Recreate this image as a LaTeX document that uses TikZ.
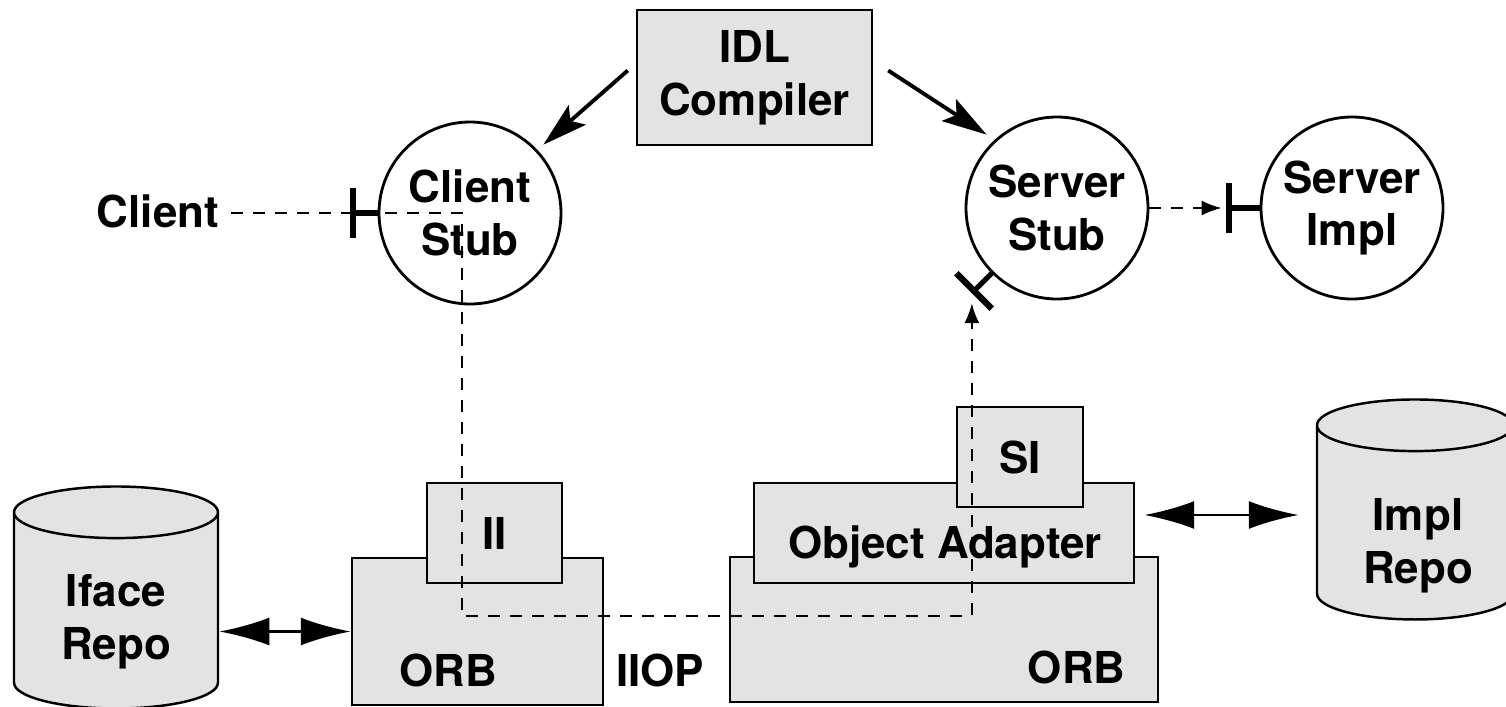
\documentclass[tikz,border=0pt]{standalone}
\usepackage{fontspec}
\setmainfont{TeX Gyre Heros}
\usetikzlibrary{arrows.meta,shapes.geometric}

\begin{document}
\begin{tikzpicture}[
  every node/.style={font=\fontsize{12.5}{15}\selectfont\bfseries},
  box/.style={rectangle, draw=black, fill=black!11, line width=0.7pt, inner sep=0pt, align=center},
  stub/.style={circle, draw=black, line width=0.8pt, minimum size=1.82cm, inner sep=0pt, align=center},
  repo/.style={cylinder, shape border rotate=90, aspect=0.47, draw=black, fill=black!11, line width=0.7pt, inner sep=0pt, align=center},
  arrow/.style={-{Stealth[length=4.5mm, width=2.6mm, inset=0.9mm]}, line width=1.1pt},
  twoway/.style={{Latex[length=5mm, width=2.8mm]}-{Latex[length=5mm, width=2.8mm]}, line width=0.8pt},
  link/.style={dash pattern=on 1.2mm off 1mm, line width=0.6pt},
  tee/.style={-{Bar[width=5mm, line width'=1.8pt]}, line width=1.5pt}
]
\useasboundingbox (0,0) rectangle (15.06,-7.07);

% Compiler and stubs
\node[box, minimum width=2.35cm, minimum height=1.35cm] (idl) at (7.545,-0.775) {IDL\\Compiler};
\node[stub] (cstub) at (4.70,-2.13) {Client\\Stub};
\node[stub] (sstub) at (10.57,-2.08) {Server\\Stub};
\node[stub] (simpl) at (13.52,-2.08) {Server\\Impl};
\node (client) at (1.58,-2.11) {Client};

% ORB on the client side
\node[box, minimum width=2.51cm, minimum height=1.47cm] (orbL) at (4.775,-6.315) {};
\node[anchor=base west] (orbLtext) at (3.87,-6.86) {ORB};
\node[box, minimum width=1.35cm, minimum height=1.00cm] (ii) at (4.945,-5.33) {II};

% ORB and adapter on the server side
\node[box, minimum width=4.28cm, minimum height=1.45cm] (orbR) at (9.44,-6.295) {};
\node[anchor=base east] (orbRtext) at (11.38,-6.83) {ORB};
\node[box, minimum width=3.80cm, minimum height=1.00cm] (oa) at (9.44,-5.33) {};
\node (oatext) at (9.45,-5.47) {Object Adapter};
\node[box, minimum width=1.26cm, minimum height=1.00cm] (si) at (10.20,-4.57) {SI};
\node[anchor=base] (iiop) at (6.60,-6.86) {IIOP};

% Repositories
\node[repo, minimum width=2.04cm, minimum height=2.22cm] (iface) at (1.16,-6.11) {\phantom{Iface}\\\phantom{Repo}};
\node[align=center] (ifacetext) at (1.16,-6.22) {Iface\\Repo};
\node[repo, minimum width=1.96cm, minimum height=2.20cm] (impl) at (14.15,-5.23) {\phantom{Impl}\\\phantom{Repo}};
\node[align=center] (impltext) at (14.18,-5.46) {Impl\\Repo};

% Connections
\coordinate (oaport) at ([yshift=0.18cm]oa.east);
\draw[arrow] ([shift={(-0.08,0.07)}]idl.west) -- ([shift={(0.08,0.03)}]cstub.north east);
\draw[arrow] ([shift={(0.15,0.07)}]idl.east) -- ([shift={(-0.05,0.08)}]sstub.north west);
\draw[twoway] (iface.east |- orbL.west) -- (orbL.west);
\draw[twoway] ([xshift=0.09cm]oaport) -- ([xshift=-0.17cm]impl.west |- oaport);

\draw[tee] (cstub.west) -- ++(-0.28,0) coordinate (cbar);
\draw[tee] (sstub.south west) -- ++(225:0.28) coordinate (sbar);
\draw[tee] (simpl.west) -- ++(-0.34,0) coordinate (ibar);

\coordinate (cturn) at (4.62,-2.13);
\coordinate (lcorner) at (4.62,-6.16);
\draw[link, -{Latex[length=2mm, width=1.5mm]}] (client.east |- cbar) -- (cbar) -- (cturn) -- (lcorner) -| ([yshift=-0.1cm]sbar);
\draw[link, -{Latex[length=2mm, width=1.5mm]}] (sstub.east) -- ([xshift=-0.04cm]ibar);

\end{tikzpicture}
\end{document}
